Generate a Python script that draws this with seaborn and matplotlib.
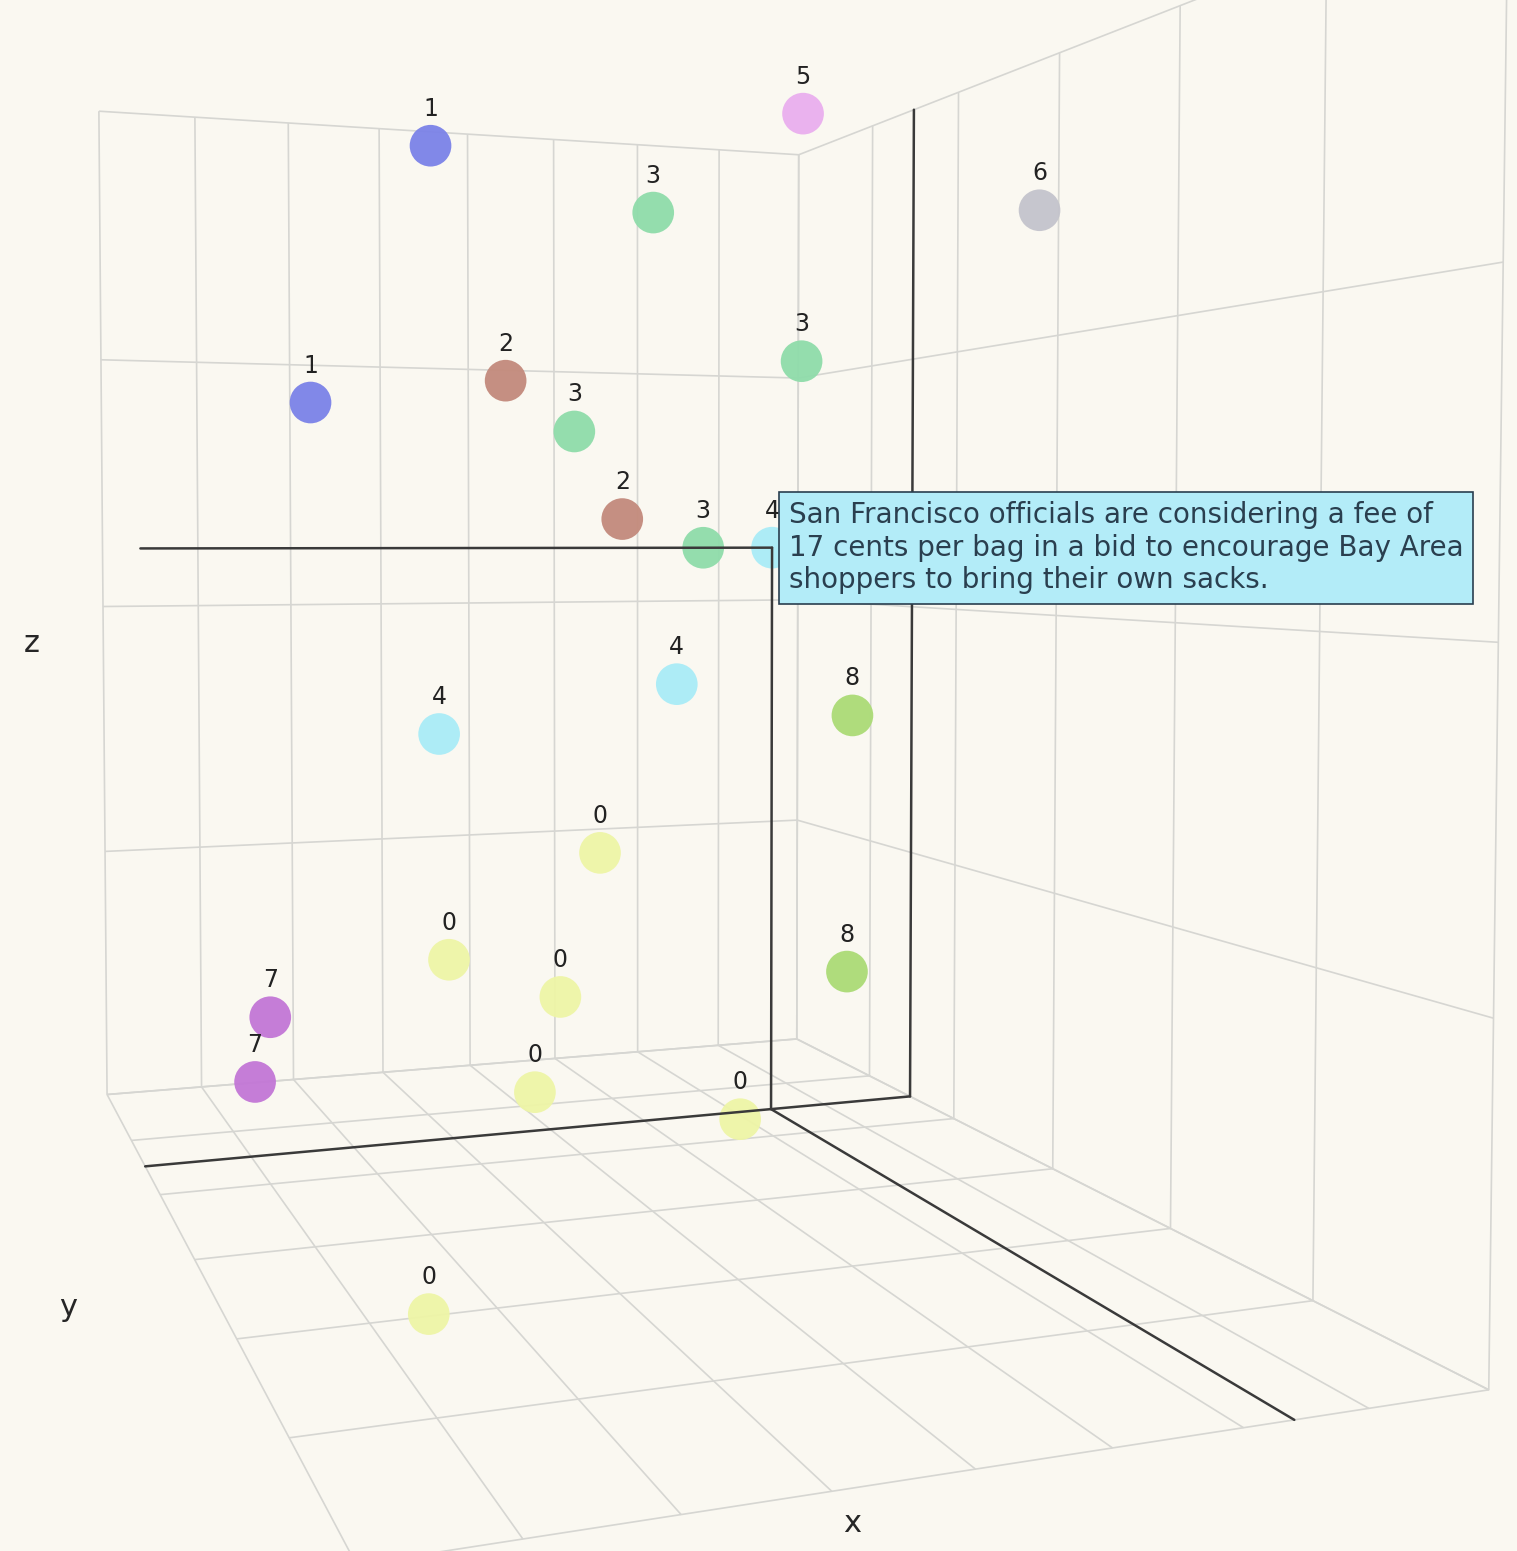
import numpy as np
import pandas as pd
import matplotlib
matplotlib.use("Agg")
import matplotlib.pyplot as plt
import seaborn as sns
from mpl_toolkits.mplot3d import proj3d

# cluster of each headline and its position in the embedding space
cluster = [5, 1, 3, 6, 3, 2, 1, 3, 2, 3, 4, 4, 8, 4, 0, 0, 0, 8, 7, 7, 0, 0, 0]
xs = [-0.6, -0.5, -0.4, 0.0, -0.3, -0.3, -0.1, -0.1, 0.0, -0.5, -0.5, 0.1, 0.3, 0.0,
      -0.2, 0.0, 0.1, 0.4, -0.4, -0.2, 0.0, -0.2, 0.45]
ys = [0.75, -0.3, 0.22, 0.95, 0.55, -0.2, -0.72, -0.13, -0.07, 0.41, 0.6, 0.0,
      0.27, -0.48, -0.02, -0.46, -0.26, 0.19, -0.73, -0.82, -0.27, 0.33, -0.68]
zs = [1.0, 0.87, 0.75, 0.72, 0.47, 0.42, 0.36, 0.32, 0.17, 0.12, 0.12, -0.1, -0.14,
      -0.18, -0.42, -0.55, -0.6, -0.52, -0.72, -0.78, -0.78, -0.92, -0.95]

hover_idx = 10
hover_text = ("San Francisco officials are considering a fee of\n"
              "17 cents per bag in a bid to encourage Bay Area\n"
              "shoppers to bring their own sacks.")

colors = {0: "#eef5a6", 1: "#7b82e8", 2: "#c38a7c", 3: "#8fdcaa", 4: "#a9ecf7",
          5: "#eaaeee", 6: "#c4c4cc", 7: "#c276d6", 8: "#abdb76"}

df = pd.DataFrame({"x": xs, "y": ys, "z": zs, "cluster": cluster})

sns.set_theme(style="white")
plt.rcParams["font.family"] = ["DejaVu Sans"]
bg = "#faf8f1"

fig = plt.figure(figsize=(15.17, 15.51), dpi=100, facecolor=bg)
ax = fig.add_axes([-0.185, 0.035, 1.2, 1.1], projection="3d", facecolor=bg)
ax.set_proj_type("persp", focal_length=0.25)
ax.set_box_aspect((1.5, 1.0, 1.3), zoom=1.16)
ax.view_init(elev=2, azim=-20)

ax.scatter(df["x"], df["y"], df["z"], c=df["cluster"].map(colors), s=900,
           alpha=0.95, depthshade=False, edgecolors="none")

ax.set_xlim(-1, 1)
ax.set_ylim(-1, 1)
ax.set_zlim(-1, 1)
ax.set_xticks(np.linspace(-1, 1, 7))
ax.set_yticks(np.linspace(-1, 1, 9))
ax.set_zticks(np.linspace(-1, 1, 5))
ax.set_xticklabels([])
ax.set_yticklabels([])
ax.set_zticklabels([])
for a in (ax.xaxis, ax.yaxis, ax.zaxis):
    a.set_pane_color((1, 1, 1, 0))
    a.line.set_color((0, 0, 0, 0))
    a._axinfo["grid"]["color"] = "#d6d6d2"
    a._axinfo["grid"]["linewidth"] = 1.2
    a._axinfo["tick"]["inward_factor"] = 0
    a._axinfo["tick"]["outward_factor"] = 0

fig.text(0.562, 0.018, "x", fontsize=22, ha="center", va="center")
fig.text(0.045, 0.157, "y", fontsize=22, ha="center", va="center")
fig.text(0.021, 0.585, "z", fontsize=22, ha="center", va="center")

# spike lines through the hovered point
hx, hy, hz = xs[hover_idx], ys[hover_idx], zs[hover_idx]
spike = dict(color="#3a3a3a", lw=1.8)
ax.plot([hx, hx], [-1, hy], [hz, hz], **spike)
ax.plot([hx, hx], [hy, hy], [hz, -1], **spike)
ax.plot([hx, hx], [-1, 1], [-1, -1], **spike)
ax.plot([hx, 1], [hy, hy], [-1, -1], **spike)
ax.plot([hx, hx], [1, 1], [-1, 1], **spike)

fig.canvas.draw()
M = ax.get_proj()
for _, r in df.iterrows():
    qx, qy, _ = proj3d.proj_transform(r["x"], r["y"], r["z"], M)
    ax.annotate(str(int(r["cluster"])), xy=(qx, qy), xycoords="data",
                xytext=(0, 18), textcoords="offset points", ha="center",
                va="bottom", fontsize=17, color="#222222")

px, py, _ = proj3d.proj_transform(hx, hy, hz, M)
ax.annotate(hover_text, xy=(px, py), xycoords="data", xytext=(12, 0),
            textcoords="offset points", ha="left", va="center", fontsize=20,
            color="#2a3f4f",
            bbox=dict(boxstyle="square,pad=0.35", fc="#b3ecf8", ec="#2a3f4f", lw=1.2))

fig.savefig("out.png", dpi=100, facecolor=bg)
